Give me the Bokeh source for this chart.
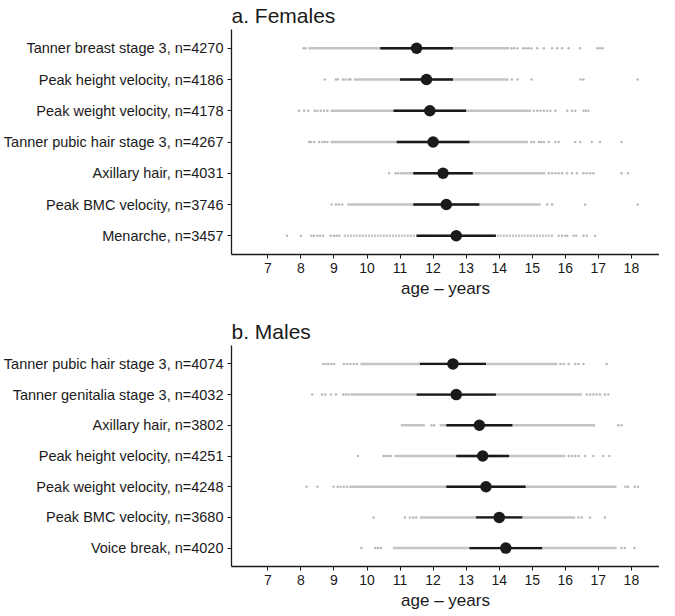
from bokeh.plotting import figure
from bokeh.models import Range1d, FixedTicker
from bokeh.layouts import column
from bokeh.embed import file_html
from bokeh.resources import INLINE

# ---------------- data ----------------
x_ticks = [7, 8, 9, 10, 11, 12, 13, 14, 15, 16, 17, 18]
x_label = "age – years"

female_title = "a. Females"
female_names = ["Tanner breast stage 3", "Peak height velocity", "Peak weight velocity",
                "Tanner pubic hair stage 3", "Axillary hair", "Peak BMC velocity", "Menarche"]
female_n = [4270, 4186, 4178, 4267, 4031, 3746, 3457]
female_median = [11.5, 11.8, 11.9, 12.0, 12.3, 12.4, 12.7]
female_q1 = [10.4, 11.0, 10.8, 10.9, 11.4, 11.4, 11.5]
female_q3 = [12.6, 12.6, 13.0, 13.1, 13.2, 13.4, 13.9]
female_dense = [[(8.22, 14.3)], [(9.6, 14.28)], [(8.9, 14.97)], [(8.9, 14.87)],
                [(11.0, 15.4)], [(9.4, 15.26)], [(9.3, 15.66)]]
female_discrete = [False, False, False, False, False, False, True]
female_sparse = [
    [8.08, 8.14, 14.37, 14.45, 14.55, 14.72, 14.8, 14.88, 14.97, 15.15, 15.35, 15.6, 15.75,
     15.9, 16.1, 16.45, 16.97, 17.05, 17.13],
    [8.72, 9.06, 9.12, 9.27, 9.35, 9.45, 9.5, 14.38, 14.56, 14.98, 16.46, 16.55, 18.19],
    [7.94, 8.1, 8.22, 8.42, 8.5, 8.6, 8.7, 8.8, 15.05, 15.15, 15.25, 15.35, 15.45, 15.55,
     15.7, 16.06, 16.2, 16.3, 16.55, 16.62, 16.7],
    [8.25, 8.3, 8.4, 8.55, 8.65, 8.72, 8.8, 14.97, 15.05, 15.2, 15.27, 15.35, 15.5, 15.7,
     15.8, 16.3, 16.45, 16.8, 17.05, 17.7],
    [10.67, 10.87, 10.95, 15.5, 15.6, 15.7, 15.8, 15.9, 16.05, 16.2, 16.35, 16.55, 16.65,
     16.75, 16.85, 17.7, 17.9],
    [8.93, 9.06, 9.15, 9.25, 15.45, 15.6, 16.6, 18.19],
    [7.58, 8.0, 8.32, 8.4, 8.5, 8.58, 8.67, 8.9, 9.0, 9.08, 9.16, 15.8, 15.9, 16.0, 16.06,
     16.25, 16.33, 16.55, 16.65, 16.9],
]

male_title = "b. Males"
male_names = ["Tanner pubic hair stage 3", "Tanner genitalia stage 3", "Axillary hair",
              "Peak height velocity", "Peak weight velocity", "Peak BMC velocity", "Voice break"]
male_n = [4074, 4032, 3802, 4251, 4248, 3680, 4020]
male_median = [12.6, 12.7, 13.4, 13.5, 13.6, 14.0, 14.2]
male_q1 = [11.6, 11.5, 12.4, 12.7, 12.4, 13.3, 13.1]
male_q3 = [13.6, 13.9, 14.4, 14.3, 14.8, 14.7, 15.3]
male_dense = [[(9.8, 15.76)], [(9.5, 16.5)], [(11.02, 11.75), (12.2, 16.9)], [(10.83, 16.0)],
              [(9.46, 17.55)], [(11.6, 16.3)], [(10.78, 17.55)]]
male_discrete = [False, False, False, False, False, False, False]
male_sparse = [
    [8.67, 8.75, 8.83, 8.92, 9.0, 9.3, 9.4, 9.5, 9.6, 9.7, 15.85, 15.95, 16.1, 16.3, 16.4,
     16.55, 17.25],
    [8.34, 8.64, 8.74, 8.91, 9.06, 9.28, 9.36, 9.44, 16.65, 16.75, 16.85, 16.95, 17.05,
     17.2, 17.3],
    [11.95, 12.03, 17.6, 17.7],
    [9.73, 10.5, 10.57, 10.65, 10.72, 16.1, 16.2, 16.3, 16.4, 16.6, 16.85, 17.15, 17.33],
    [8.17, 8.5, 8.99, 9.11, 9.2, 9.3, 9.4, 17.82, 17.9, 18.1, 18.2],
    [10.2, 11.15, 11.3, 11.4, 11.49, 16.4, 16.5, 16.75, 17.2],
    [9.83, 10.25, 10.33, 10.42, 17.7, 17.8, 18.09],
]

# ---------------- styling ----------------
FONT = "Liberation Sans"
INK = "#1a1a1a"
GREY = "#c4c4c4"
GREY_PT = "#b8b8b8"


def make_panel(title, names, ns, med, q1, q3, dense, discrete, sparse,
               height, top_border, bottom_border):
    k = len(names)
    ypos = [k - i for i in range(k)]
    labels = {ypos[i]: f"{names[i]}, n={ns[i]}" for i in range(k)}

    p = figure(width=659, height=height,
               x_range=Range1d(5.9, 18.85), y_range=Range1d(0.4, k + 0.6),
               output_backend="svg", toolbar_location=None,
               min_border_left=224, min_border_right=0,
               min_border_top=top_border, min_border_bottom=bottom_border)
    p.title.text = title
    p.title.text_font = FONT
    p.title.text_font_size = "21px"
    p.title.text_font_style = "normal"
    p.title.text_color = INK
    p.title.align = "left"
    p.title.vertical_align = "top"
    p.title.standoff = 1

    # dense strips of observations
    for i in range(k):
        for lo, hi in dense[i]:
            if discrete[i]:
                p.segment(x0=[lo], y0=[ypos[i]], x1=[hi], y1=[ypos[i]],
                          line_color=GREY, line_width=2.5, line_dash="2 1")
            else:
                p.segment(x0=[lo], y0=[ypos[i]], x1=[hi], y1=[ypos[i]],
                          line_color=GREY, line_width=2.5)
    # sparse observations
    xs, ys = [], []
    for i in range(k):
        for v in sparse[i]:
            xs.append(v)
            ys.append(ypos[i])
    p.scatter(xs, ys, size=2.5, fill_color=GREY_PT, line_color=None)

    # IQR and median
    p.segment(x0=q1, y0=ypos, x1=q3, y1=ypos, line_color=INK, line_width=2.4)
    p.scatter(med, ypos, size=11.5, fill_color=INK, line_color=None)

    p.xgrid.visible = False
    p.ygrid.visible = False
    p.outline_line_color = None
    p.background_fill_color = "white"
    p.border_fill_color = "white"

    xa = p.xaxis[0]
    xa.ticker = FixedTicker(ticks=x_ticks)
    xa.axis_label = x_label
    xa.axis_label_text_font = FONT
    xa.axis_label_text_font_size = "17px"
    xa.axis_label_text_font_style = "normal"
    xa.axis_label_text_color = INK
    xa.axis_label_standoff = 3
    xa.major_label_text_font = FONT
    xa.major_label_text_font_size = "14px"
    xa.major_label_text_color = INK
    xa.major_label_standoff = 4
    xa.major_tick_in = 0
    xa.major_tick_out = 4
    xa.minor_tick_line_color = None
    xa.axis_line_color = INK
    xa.axis_line_width = 1.3
    xa.major_tick_line_color = INK

    ya = p.yaxis[0]
    ya.ticker = FixedTicker(ticks=ypos)
    ya.major_label_overrides = labels
    ya.major_label_text_font = FONT
    ya.major_label_text_font_size = "14.5px"
    ya.major_label_text_color = INK
    ya.major_label_standoff = 4
    ya.major_tick_in = 0
    ya.major_tick_out = 4
    ya.minor_tick_line_color = None
    ya.axis_line_color = INK
    ya.axis_line_width = 1.3
    ya.major_tick_line_color = INK
    return p


p1 = make_panel(female_title, female_names, female_n, female_median, female_q1, female_q3,
                female_dense, female_discrete, female_sparse,
                height=300, top_border=29, bottom_border=46)
p2 = make_panel(male_title, male_names, male_n, male_median, male_q1, male_q3,
                male_dense, male_discrete, male_sparse,
                height=312, top_border=45, bottom_border=44)

layout = column(p1, p2, spacing=0)
open("out.html", "w").write(file_html(layout, INLINE))
